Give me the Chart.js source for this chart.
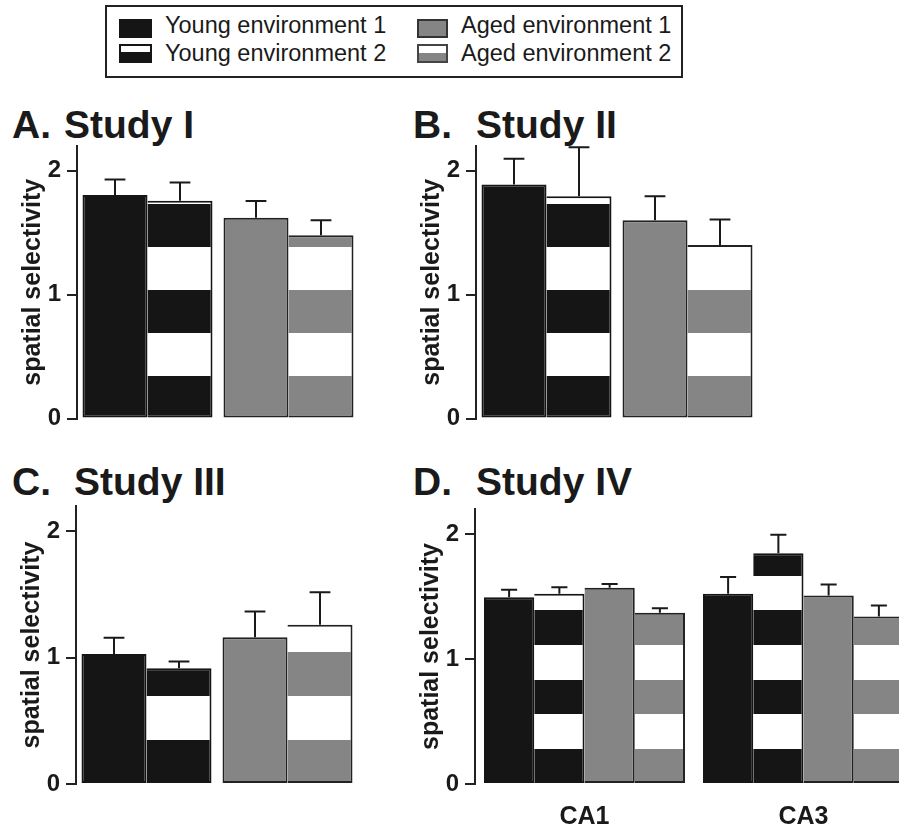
<!DOCTYPE html>
<html>
<head>
<meta charset="utf-8">
<title>Spatial selectivity</title>
<script src="https://cdn.jsdelivr.net/npm/chart.js@4.4.1/dist/chart.umd.min.js"></script>
<style>
    html, body { margin: 0; padding: 0; width: 899px; height: 827px; overflow: hidden; background: #fff;
                 font-family: 'Liberation Sans', Arial, sans-serif; color: #1a1a1a; }
    #legend-box { position: absolute; left: 105px; top: 5px; width: 578px; height: 73px; border: 2px solid #222; box-sizing: border-box; }
    .sw { position: absolute; box-sizing: border-box; width: 33px; height: 19px; border: 2px solid #151515; }
    .lt { position: absolute; font-size: 23.5px; line-height: 23.5px; white-space: nowrap; }
    .ttl { position: absolute; font-size: 39px; line-height: 39px; font-weight: bold; white-space: nowrap; }
    canvas { position: absolute; }
</style>
</head>
<body>
    <!-- Legend -->
    <div id="legend-box"></div>
    <div class="sw" style="left:119px; top:19px; background:#151515;"></div>
    <div class="lt" style="left:165px; top:14px;">Young environment 1</div>
    <div class="sw" style="left:119px; top:44px; background:linear-gradient(#fff 0 40%, #151515 40%);"></div>
    <div class="lt" style="left:165px; top:42px;">Young environment 2</div>
    <div class="sw" style="left:417px; top:19px; width:31px; background:#858585; border-color:#333;"></div>
    <div class="lt" style="left:461px; top:14px;">Aged environment 1</div>
    <div class="sw" style="left:417px; top:44px; width:31px; background:linear-gradient(#fff 0 45%, #858585 45%); border-color:#444;"></div>
    <div class="lt" style="left:461px; top:42px;">Aged environment 2</div>

    <!-- Panel titles -->
    <div class="ttl" style="left:12px; top:105px;">A.</div>
    <div class="ttl" style="left:64px; top:105px;">Study I</div>
    <div class="ttl" style="left:413px; top:105px;">B.</div>
    <div class="ttl" style="left:476px; top:105px;">Study II</div>
    <div class="ttl" style="left:12px; top:462px;">C.</div>
    <div class="ttl" style="left:74px; top:462px;">Study III</div>
    <div class="ttl" style="left:413px; top:462px;">D.</div>
    <div class="ttl" style="left:476px; top:462px;">Study IV</div>

    <canvas id="chartA" width="400" height="285" style="left:0px; top:140px;"></canvas>
    <canvas id="chartB" width="400" height="285" style="left:399px; top:140px;"></canvas>
    <canvas id="chartC" width="400" height="327" style="left:-1px; top:500px;"></canvas>
    <canvas id="chartD" width="520" height="327" style="left:398px; top:500px;"></canvas>

<script>
// Studies I-III: young pair, then aged pair
const groupLabels = ['Young', 'Aged'];

const study1Env1 = [1.805, 1.62];
const study1Env1Err = [0.125, 0.135];
const study1Env2 = [1.757, 1.48];
const study1Env2Err = [0.148, 0.12];

const study2Env1 = [1.89, 1.60];
const study2Env1Err = [0.207, 0.195];
const study2Env2 = [1.795, 1.40];
const study2Env2Err = [0.395, 0.207];

const study3Env1 = [1.028, 1.162];
const study3Env1Err = [0.129, 0.203];
const study3Env2 = [0.916, 1.261];
const study3Env2Err = [0.054, 0.257];

// Study IV: CA1 / CA3
const regionLabels = ['CA1', 'CA3'];
const youngEnv1 = [1.495, 1.522];
const youngEnv1Err = [0.059, 0.135];
const youngEnv2 = [1.522, 1.846];
const youngEnv2Err = [0.053, 0.149];
const agedEnv1 = [1.57, 1.508];
const agedEnv1Err = [0.03, 0.088];
const agedEnv2 = [1.37, 1.34];
const agedEnv2Err = [0.037, 0.089];

const tickValues = [0, 1, 2];

document.addEventListener('DOMContentLoaded', () => {
    const FONT = "'Liberation Sans', Arial, sans-serif";
    const BLACK = '#151515';
    const GRAY = '#858585';
    const EDGE = '#222';
    const INK = '#1a1a1a';

    // horizontal white bands, fixed to the value axis (band height in data units)
    function stripes(c, base, step) {
        const chart = c.chart;
        const y = chart.scales.y;
        if (!chart.chartArea || !y) return base;
        const y0 = y.getPixelForValue(0);
        const y1 = y.getPixelForValue(y.max);
        const g = chart.ctx.createLinearGradient(0, y0, 0, y1);
        let v = 0, i = 0;
        while (v < y.max) {
            const col = i % 2 ? '#ffffff' : base;
            g.addColorStop(v / y.max, col);
            g.addColorStop(Math.min((v + step) / y.max, 1), col);
            v += step; i++;
        }
        return g;
    }

    // upper error bars (mean + SEM)
    const errorBars = {
        id: 'errorBars',
        afterDatasetsDraw(chart) {
            const { ctx, scales: { y } } = chart;
            ctx.save();
            ctx.strokeStyle = INK;
            ctx.lineWidth = 2;
            chart.data.datasets.forEach((ds, i) => {
                chart.getDatasetMeta(i).data.forEach((bar, j) => {
                    const top = y.getPixelForValue(ds.data[j] + ds.errors[j]);
                    const half = bar.width * 0.16;
                    ctx.beginPath();
                    ctx.moveTo(bar.x, bar.y);
                    ctx.lineTo(bar.x, top);
                    ctx.moveTo(bar.x - half, top);
                    ctx.lineTo(bar.x + half, top);
                    ctx.stroke();
                });
            });
            ctx.restore();
        }
    };

    const yAxis = () => ({
        min: 0, max: 2.2,
        afterFit: s => { s.width = 77; s.paddingTop = 0; s.paddingBottom = 0; },
        afterBuildTicks: s => { s.ticks = tickValues.map(v => ({ value: v })); },
        ticks: { color: INK, padding: 6, font: { family: FONT, size: 24, weight: 'bold' } },
        grid: { drawOnChartArea: false, drawTicks: true, tickLength: 10, color: EDGE, lineWidth: 2 },
        border: { display: true, color: EDGE, width: 2 },
        title: {
            display: true, text: 'spatial selectivity', color: INK,
            font: { family: FONT, size: 25, weight: 'bold' },
            padding: { top: 18, bottom: 0 }
        }
    });

    const baseOptions = (padding, xAxis, catPct) => ({
        responsive: false,
        animation: false,
        layout: { padding },
        plugins: { legend: { display: false }, tooltip: { enabled: false } },
        datasets: { bar: { categoryPercentage: catPct, barPercentage: 1, borderSkipped: false } },
        scales: { x: xAxis, y: yAxis() }
    });

    const fullBorder = 2;
    const noLeftBorder = { top: 2, right: 2, bottom: 2, left: 0 };

    function studyChart(id, env1, env1Err, env2, env2Err, bottomPad) {
        new Chart(document.getElementById(id), {
            type: 'bar',
            data: {
                labels: groupLabels,
                datasets: [
                    {
                        label: 'environment 1', data: env1, errors: env1Err,
                        backgroundColor: [BLACK, GRAY], borderColor: [BLACK, EDGE], borderWidth: fullBorder
                    },
                    {
                        label: 'environment 2', data: env2, errors: env2Err,
                        backgroundColor: c => stripes(c, c.dataIndex === 0 ? BLACK : GRAY, 0.347),
                        borderColor: [BLACK, EDGE], borderWidth: noLeftBorder
                    }
                ]
            },
            options: baseOptions({ top: 6, right: 41, bottom: bottomPad, left: 0 }, { display: false }, 0.922),
            plugins: [errorBars]
        });
    }

    studyChart('chartA', study1Env1, study1Env1Err, study1Env2, study1Env2Err, 6.5);
    studyChart('chartB', study2Env1, study2Env1Err, study2Env2, study2Env2Err, 6.5);
    studyChart('chartC', study3Env1, study3Env1Err, study3Env2, study3Env2Err, 43);

    // Study IV
    new Chart(document.getElementById('chartD'), {
        type: 'bar',
        data: {
            labels: regionLabels,
            datasets: [
                { label: 'Young environment 1', data: youngEnv1, errors: youngEnv1Err,
                  backgroundColor: BLACK, borderColor: BLACK, borderWidth: fullBorder },
                { label: 'Young environment 2', data: youngEnv2, errors: youngEnv2Err,
                  backgroundColor: c => stripes(c, BLACK, 0.278), borderColor: BLACK, borderWidth: noLeftBorder },
                { label: 'Aged environment 1', data: agedEnv1, errors: agedEnv1Err,
                  backgroundColor: GRAY, borderColor: EDGE, borderWidth: noLeftBorder },
                { label: 'Aged environment 2', data: agedEnv2, errors: agedEnv2Err,
                  backgroundColor: c => stripes(c, GRAY, 0.278), borderColor: EDGE, borderWidth: noLeftBorder }
            ]
        },
        options: baseOptions({ top: 9, right: 5, bottom: 0, left: 0 }, {
            afterFit: s => { s.height = 43; s.paddingLeft = 0; s.paddingRight = 0; },
            grid: { display: false },
            border: { display: false },
            ticks: { color: INK, padding: 10, font: { family: FONT, size: 25, weight: 'bold' } }
        }, 0.918),
        plugins: [errorBars]
    });
});
</script>
</body>
</html>
